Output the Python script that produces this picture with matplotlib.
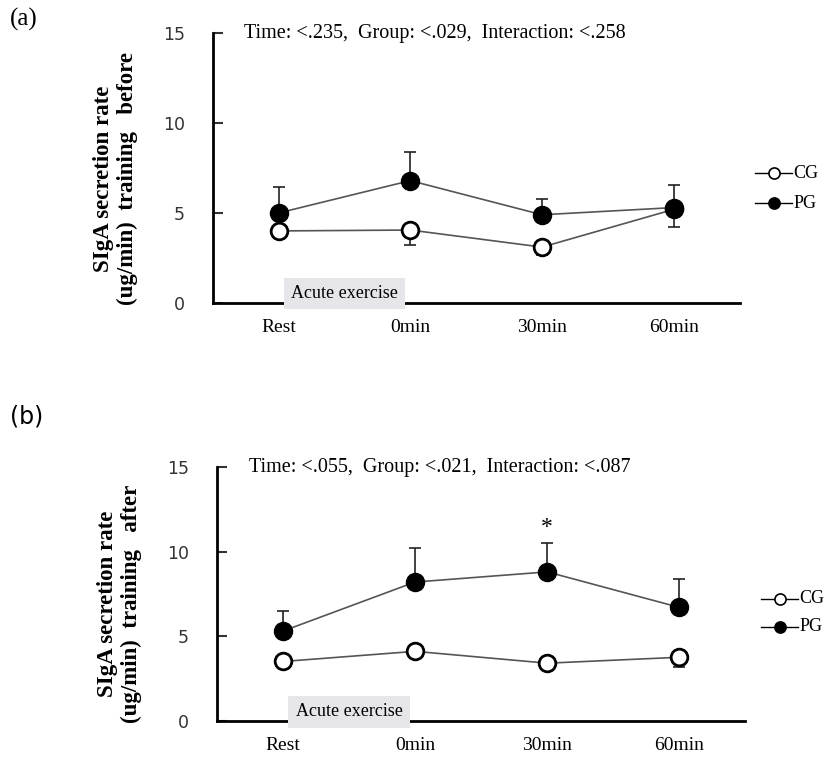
import numpy as np
import matplotlib.pyplot as plt

times = ['Rest', '0min', '30min', '60min']

# panel (a): training before
cg_a = [4.0, 4.05, 3.1, 5.2]
cg_a_err = [0.0, 0.85, 0.45, 1.0]
pg_a = [5.0, 6.8, 4.9, 5.3]
pg_a_err = [1.45, 1.6, 0.9, 1.25]
stats_a = 'Time: <.235,  Group: <.029,  Interaction: <.258'

# panel (b): training after
cg_b = [3.5, 4.1, 3.4, 3.75]
cg_b_err = [0.0, 0.0, 0.0, 0.6]
pg_b = [5.3, 8.2, 8.8, 6.7]
pg_b_err = [1.2, 2.0, 1.7, 1.7]
stats_b = 'Time: <.055,  Group: <.021,  Interaction: <.087'

serif = 'Liberation Serif'

fig = plt.figure(figsize=(8.31, 7.57), dpi=100)
ax1 = fig.add_axes([0.256, 0.600, 0.634, 0.356])
ax2 = fig.add_axes([0.261, 0.048, 0.636, 0.335])


def draw(ax, cg, cg_err, pg, pg_err, stats, ylab, star=None):
    x = np.arange(len(times))
    ax.errorbar(x, pg, yerr=[np.zeros(len(pg)), pg_err], fmt='none',
                ecolor='#222222', elinewidth=1.2, capsize=4, capthick=1.2, zorder=2)
    ax.errorbar(x, cg, yerr=[cg_err, np.zeros(len(cg))], fmt='none',
                ecolor='#222222', elinewidth=1.2, capsize=4, capthick=1.2, zorder=2)
    ax.plot(x, cg, '-o', color='#555555', lw=1.2, mfc='white', mec='black',
            mew=2, ms=12, zorder=3)
    ax.plot(x, pg, '-o', color='#555555', lw=1.2, mfc='black', mec='black',
            ms=13, zorder=4)
    if star is not None:
        ax.text(star[0], star[1], '*', ha='center', va='center',
                fontsize=17, family=serif)
    ax.set_xlim(-0.5, 3.5)
    ax.set_ylim(0, 15)
    ax.set_yticks([0, 5, 10, 15])
    ax.set_xticks(x)
    ax.set_xticklabels(times, family=serif, fontsize=14)
    ax.tick_params(axis='x', length=0, pad=12)
    ax.tick_params(axis='y', direction='in', length=7, width=1.5,
                   labelsize=12.5, pad=20, colors='#333333')
    for s in ['top', 'right']:
        ax.spines[s].set_visible(False)
    for s in ['left', 'bottom']:
        ax.spines[s].set_linewidth(2)
    ax.set_ylabel(ylab, family=serif, fontweight='bold', fontsize=16.5,
                  linespacing=1.15)
    ax.yaxis.set_label_coords(-0.142, 0.46)
    ax.text(0.06, 1.0, stats, transform=ax.transAxes, family=serif,
            fontsize=14.5, va='center')
    ax.text(0.5, 0.52, 'Acute exercise', ha='center', va='center',
            family=serif, fontsize=13, zorder=5,
            bbox=dict(boxstyle='square,pad=0.4', fc='#e6e6ea', ec='none'))
    # legend
    for yy, fc, lab in [(0.48, 'white', 'CG'), (0.37, 'black', 'PG')]:
        ax.plot([1.03, 1.1], [yy, yy], transform=ax.transAxes, color='black',
                lw=1, clip_on=False)
        ax.plot([1.065], [yy], 'o', transform=ax.transAxes, mfc=fc,
                mec='black', mew=1.2, ms=8, clip_on=False)
        ax.text(1.102, yy, lab, transform=ax.transAxes, va='center',
                family=serif, fontsize=13)


draw(ax1, cg_a, cg_a_err, pg_a, pg_a_err, stats_a,
     'SIgA secretion rate\n(ug/min)  training   before')
draw(ax2, cg_b, cg_b_err, pg_b, pg_b_err, stats_b,
     'SIgA secretion rate\n(ug/min)  training   after', star=(2, 11.4))

fig.text(0.012, 0.966, '(a)', family=serif, fontsize=18)
fig.text(0.012, 0.44, '(b)', fontsize=17)

fig.savefig('out.png', dpi=100)
